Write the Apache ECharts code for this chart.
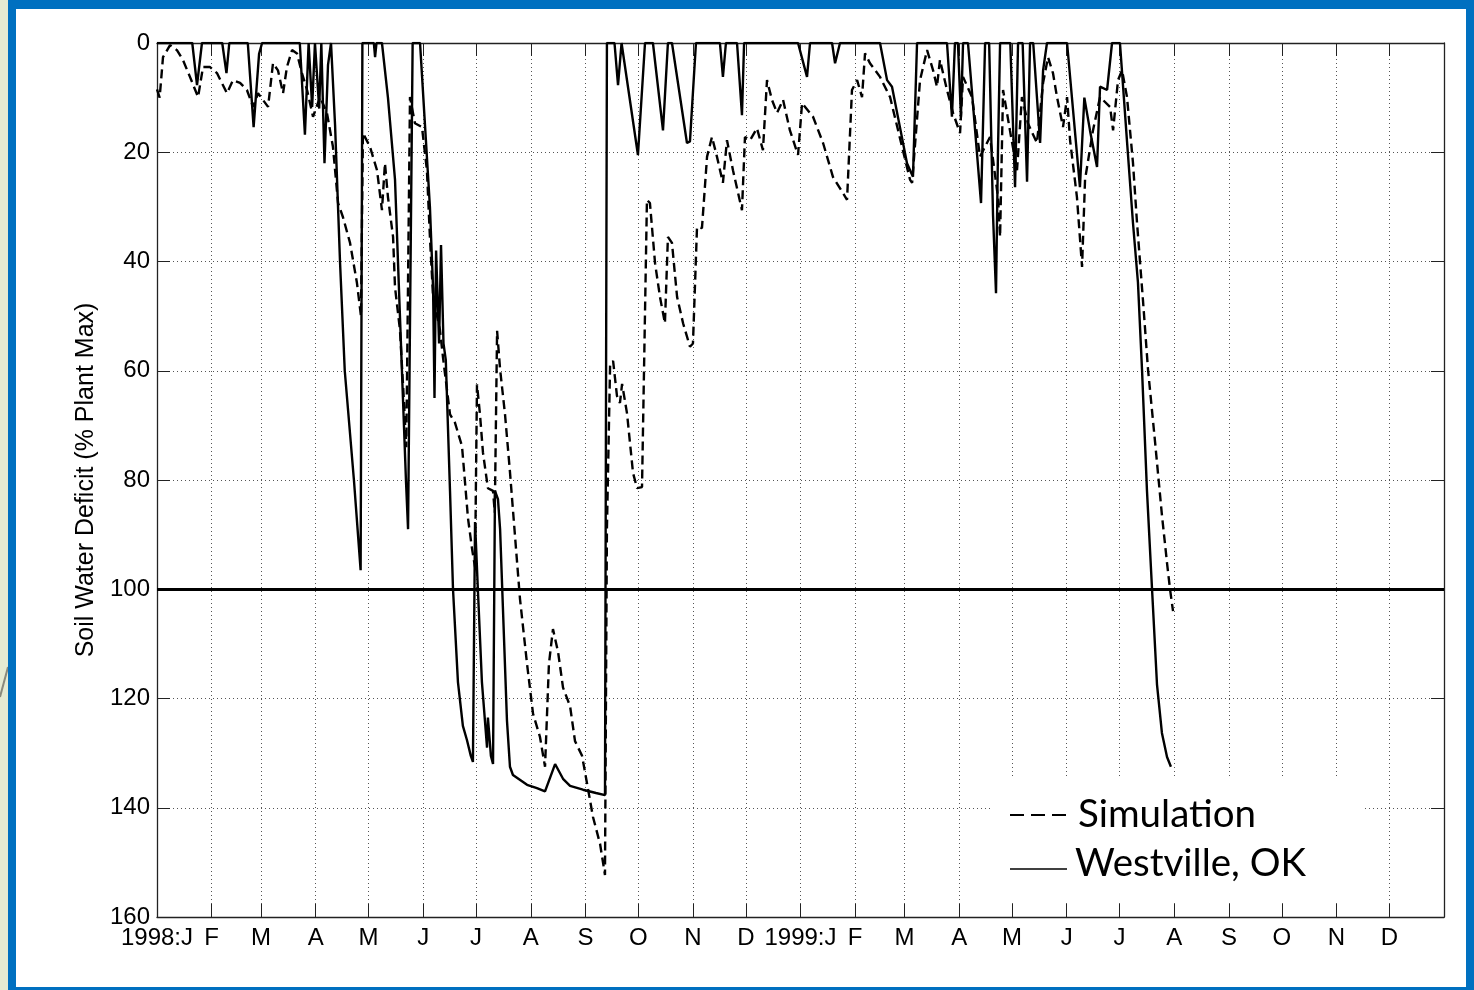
<!DOCTYPE html>
<html><head><meta charset="utf-8">
<script src="https://cdn.jsdelivr.net/npm/echarts@6/dist/echarts.min.js"></script>
<style>
html,body{margin:0;padding:0;background:#e6ebd2;width:1474px;height:990px;overflow:hidden}
#frame{position:absolute;left:8px;top:0;width:1466px;height:990px;box-sizing:border-box;border-style:solid;border-color:#0070c0;border-width:9px 8px 3px 8px;background:#fff}
#chart{position:absolute;left:0;top:0;width:1474px;height:990px}
#deco{position:absolute;left:0;top:0}
</style></head><body>
<svg id="deco" width="8" height="990"><line x1="0" y1="697" x2="8" y2="667" stroke="#8a8a7c" stroke-width="2"/></svg>
<div id="frame"></div>
<div id="chart"></div>
<script>
// Month starts (day index from 1 Jan 1998) and tick labels
const monthStarts = [0,31,59,90,120,151,181,212,243,273,304,334,365,396,424,455,485,516,546,577,608,638,669,699];
const monthLabels = ['1998:J','F','M','A','M','J','J','A','S','O','N','D','1999:J','F','M','A','M','J','J','A','S','O','N','D'];
const dayMax = 730;
const deficitMin = 0, deficitMax = 160, deficitStep = 20;
const thresholdValue = 100;

// Simulation (dashed): [day, % deficit]
const simulation = [
[0,8.5],[1.5,10],[3.4,2.6],[7.4,0.4],[11.3,1.3],[14.7,3.1],[18.7,6.2],[23.3,9.9],[26.1,4.4],[30.1,4.4],[34,5.5],[39.7,9.2],[43.1,6.8],[47.1,7.3],[51,8.6],[54.5,11.7],[57.3,9.2],[63,11.7],[65.8,3.7],[68.6,5],[71.5,9.2],[73.7,4.4],[76.6,1.3],[79.4,1.9],[82.2,5.5],[85.1,8.6],[88.5,13.5],[92.5,9.9],[96.4,12.8],[99.8,19],[102.7,29.3],[105.5,31.9],[109.5,36.6],[113.4,43.9],[115.7,50],[116.8,16.5],[120.8,19],[124.8,23.3],[127.6,30.6],[129.3,22],[131,28.2],[133.9,35.5],[135,44.7],[137.8,52.5],[139.8,64],[141.4,74],[143.5,9.9],[146.3,14.7],[150.3,15.4],[153.1,23.3],[154.8,35.5],[156.6,46.5],[160.5,52.5],[162.2,57.5],[166.2,68],[169,69.5],[173,73.8],[176.4,87],[178.7,92.6],[180.4,96],[181.5,62.5],[183.2,68],[184.9,75],[187.7,81.5],[190.6,82],[191.6,86],[192.9,52.7],[194.6,59.7],[197.4,68],[200.2,78.5],[203.1,90.4],[205.9,101.8],[209.9,113.7],[213.3,122.8],[217.2,127],[220.1,132.5],[222.3,113.7],[224.6,107.3],[227.5,111.5],[230.3,118],[234.3,121.4],[237.1,127.8],[241.1,130.5],[243.9,135.5],[247.3,141.7],[251.3,146.6],[254.1,152.3],[255.2,89],[257,59],[258.7,58.2],[260.9,64.6],[262.6,65.9],[263.8,62.4],[266.6,67.8],[270,78.7],[272.3,81.5],[275.1,81.3],[277.9,28.7],[279.6,29.3],[282.5,40.3],[285.3,46.5],[288.1,51.3],[289.8,35.5],[292.1,36.6],[295,46.5],[298.4,51.3],[302.3,55.6],[304,55],[306.3,33.7],[309.1,33.9],[312,20.8],[314.8,17.2],[317.6,20.8],[321,25.6],[323.3,17.8],[326.7,23.3],[331.8,30.6],[333.5,17.2],[336.4,17.8],[340.3,15.6],[343.7,19.6],[346,6.8],[348.8,10.4],[351.7,12.8],[355.1,10.4],[359,16],[363.6,20.5],[365.9,11],[372.1,13.5],[377.8,18.3],[383.4,24.5],[391.4,28.7],[394.2,8.6],[397.1,6.8],[399.9,9.9],[401.6,1.9],[404.4,3.7],[410.1,6.2],[415.8,9.9],[422.6,19],[427.1,25],[428.3,25.6],[432.8,6.8],[436.8,1.3],[440.2,5],[442.4,8],[444.1,3.1],[448.1,8.6],[451.5,12.8],[455.5,16.5],[457.2,6.2],[462.3,9.9],[466.8,20.8],[472.5,17.2],[477,28.2],[478.2,35.5],[479.9,8.6],[483.8,16],[487.8,23.3],[490.6,9.9],[494,14.7],[499.1,18.3],[502.6,7.3],[505.4,2.6],[508.2,5.5],[510.5,9.9],[513.9,15.4],[516.2,9.9],[517.9,17.8],[521.8,28.2],[524.7,41],[526.4,25],[530.9,16],[534.9,9.9],[540.6,11.7],[542.3,16],[545.1,6.8],[547.4,5],[550.2,9.9],[553.6,22],[555.9,33],[559.3,47.3],[562.1,59.7],[566.1,73],[570,86.4],[572.9,95.2],[574.6,100],[576.3,104]
];

// Westville, OK observed (solid): [day, % deficit]
const westville = [
[0,0],[20,0],[22.7,7.7],[25.5,0],[37,0],[39.4,5.5],[41,0],[51.5,0],[54.8,15.4],[57.9,2],[59.6,0],[81,0],[83.9,16.8],[86,0],[88,11.7],[89.6,0],[92,12],[93.2,0],[95,22],[97,4],[98.7,0],[101,15],[103.8,40],[106.5,60],[111.7,80],[115.5,96.5],[116.5,0],[123,0],[123.7,2.6],[124.5,0],[127.6,0],[131,10],[135,25],[137.8,50],[139.5,65],[141.2,80],[142.4,89],[145,0],[149.2,0],[152,15],[154.8,30],[156.6,45],[157.4,65],[158.3,38],[160,55],[161.1,37],[162.5,55],[163.8,58],[166.2,82],[167.9,100],[170.7,117],[173.5,125],[175.8,127.6],[178,130.5],[179.2,131.6],[180.4,87.7],[182,100],[184.3,117],[187.2,129],[187.7,123.5],[189.4,130.5],[190.6,132],[191.7,82],[193.4,83.5],[194.6,89],[198.5,124],[200.2,132.5],[201.9,134],[209.9,135.8],[215.5,136.4],[220.1,137],[225.8,132],[230.3,134.7],[234.3,136],[241.6,136.7],[249,137.3],[254.1,137.7],[255.2,0],[259.5,0],[261.5,7.7],[263.5,0],[264.3,0],[272.8,20.5],[276.8,0],[281.3,0],[287,16],[289.8,0],[292.1,0],[300.6,18.3],[302.3,18],[305.7,0],[319.3,0],[321,6.2],[322.7,0],[329,0],[331.8,13.2],[333,0],[363.6,0],[368.7,6.2],[370.4,0],[382.9,0],[384.6,3.7],[387.4,0],[410.1,0],[414.1,6.8],[416.9,8],[421.4,15.4],[425.4,22],[428.8,24.5],[431.1,0],[448.1,0],[450.9,13.5],[452.6,0],[454.3,0],[456,13.5],[457.2,0],[460,0],[467.4,29.3],[469.7,0],[472,0],[474.2,31.5],[475.9,45.8],[477,20],[478.2,0],[484,0],[486.7,26.4],[488.4,0],[491,0],[493.5,25.4],[495.2,0],[497,0],[500.9,18.3],[502.6,5],[504.8,0],[516.2,0],[523.5,26.4],[526,10],[529.2,16],[533.2,22.7],[534.9,8],[538.9,8.6],[541.7,0],[546.2,0],[550.2,18],[553.6,33],[556.4,43.8],[558.7,59.7],[561.5,81.8],[564.4,100],[567.2,117.4],[570,126.3],[572.9,130.7],[575.1,132.5]
];

const FONT = "'Liberation Sans', Arial, Helvetica, sans-serif";
const chart = echarts.init(document.getElementById('chart'), null, {renderer: 'canvas'});

const tickStyle = {color: '#222', width: 1};
const axisLineStyle = {color: '#222', width: 1.3};

chart.setOption({
  backgroundColor: 'transparent',
  animation: false,
  grid: {left: 157, right: 30, top: 43, bottom: 73},
  xAxis: [{
    type: 'value', min: 0, max: dayMax, position: 'bottom',
    axisLine: {show: true, onZero: false, lineStyle: axisLineStyle},
    axisTick: {show: true, inside: true, length: 13, customValues: monthStarts, lineStyle: tickStyle},
    axisLabel: {show: true, customValues: monthStarts, color: '#000', fontSize: 24, fontFamily: FONT, margin: 9, showMinLabel: true,
      formatter: v => { const i = monthStarts.indexOf(v); return i >= 0 ? monthLabels[i] : ''; }},
    splitLine: {show: true, lineStyle: {type: [1, 3], color: '#555', width: 1}}
  }, {
    type: 'value', min: 0, max: dayMax, position: 'top',
    axisLine: {show: true, onZero: false, lineStyle: axisLineStyle},
    axisTick: {show: true, inside: true, length: 13, customValues: monthStarts, lineStyle: tickStyle},
    axisLabel: {show: false}, splitLine: {show: false}
  }],
  yAxis: [{
    type: 'value', inverse: true, min: deficitMin, max: deficitMax, interval: deficitStep, position: 'left',
    name: 'Soil Water Deficit (% Plant Max)', nameLocation: 'middle', nameGap: 57, nameRotate: 90,
    nameTextStyle: {fontSize: 25, color: '#000', fontFamily: FONT},
    axisLine: {show: true, onZero: false, lineStyle: axisLineStyle},
    axisTick: {show: true, inside: true, length: 13, lineStyle: tickStyle},
    axisLabel: {color: '#000', fontSize: 24, fontFamily: FONT, margin: 7},
    splitLine: {show: true, lineStyle: {type: [1, 3], color: '#555', width: 1}}
  }, {
    type: 'value', inverse: true, min: deficitMin, max: deficitMax, interval: deficitStep, position: 'right',
    axisLine: {show: true, onZero: false, lineStyle: axisLineStyle},
    axisTick: {show: true, inside: true, length: 13, lineStyle: tickStyle},
    axisLabel: {show: false}, splitLine: {show: false}
  }],
  series: [{
    name: 'Simulation', type: 'line', data: simulation, showSymbol: false, symbol: 'none',
    lineStyle: {color: '#000', width: 2.4, type: [9, 5]}, z: 3
  }, {
    name: 'Westville, OK', type: 'line', data: westville, showSymbol: false, symbol: 'none',
    lineStyle: {color: '#000', width: 2.4, type: 'solid'}, z: 4,
    markLine: {silent: true, symbol: 'none', label: {show: false},
      lineStyle: {color: '#000', width: 3, type: 'solid'},
      data: [{yAxis: thresholdValue}]}
  }],
  graphic: [
    {type: 'rect', z: 100, shape: {x: 991, y: 777, width: 372, height: 123}, style: {fill: '#fff'}},
    {type: 'line', z: 101, shape: {x1: 1010, y1: 815, x2: 1067, y2: 815}, style: {stroke: '#000', lineWidth: 2, lineDash: [14, 7]}},
    {type: 'text', z: 101, style: {text: 'Simulation', x: 1078, y: 815, fill: '#000', font: "38.5px Lato, 'Open Sans', sans-serif", verticalAlign: 'middle'}},
    {type: 'line', z: 101, shape: {x1: 1010, y1: 869, x2: 1067, y2: 869}, style: {stroke: '#000', lineWidth: 1.5}},
    {type: 'text', z: 101, style: {text: 'Westville, OK', x: 1075, y: 864, fill: '#000', font: "38.5px Lato, 'Open Sans', sans-serif", verticalAlign: 'middle'}}
  ]
});
</script>
</body></html>
